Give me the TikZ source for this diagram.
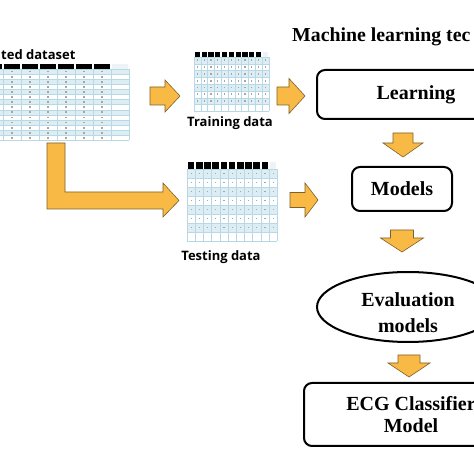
\documentclass[tikz,border=0pt]{standalone}
\usepackage{fontspec}
\setmainfont{Liberation Serif}
\newfontfamily\labelfont{Open Sans}
\usetikzlibrary{shapes.geometric}

\definecolor{arrowfill}{HTML}{F8BA45}
\definecolor{arrowline}{HTML}{80602A}
\definecolor{rowblue}{HTML}{DCEDF4}
\definecolor{gridblue}{HTML}{B9D8E5}
\definecolor{headgray}{HTML}{EEF3F6}

\tikzset{
  blockarrow/.style={fill=arrowfill, draw=arrowline, line width=0.6pt, line join=miter},
  pics/fatarrow/.style args={#1/#2/#3/#4}{code={
    \draw[blockarrow] (0,-#2) -- ({#1-#4},-#2) -- ({#1-#4},-#3) -- (#1,0)
      -- ({#1-#4},#3) -- ({#1-#4},#2) -- (0,#2) -- cycle;}},
  stagebox/.style={draw, line width=2pt, rounded corners=8pt, inner sep=0pt, align=center,
    font=\fontsize{20}{22}\selectfont\bfseries},
  stageoval/.style={draw, ellipse, line width=2pt, inner sep=0pt},
  stagetext/.style={align=center, font=\fontsize{20}{26}\selectfont\bfseries},
  tablelabel/.style={font=\labelfont\bfseries\fontsize{13}{15}\selectfont}
}

% #1 x0, #2 top, #3 cols, #4 col width, #5 rows, #6 row height, #7 header height, #8 filled rows, #9 filled cols
\newcommand{\gridtable}[9]{%
  \foreach \r in {1,...,#5}{
    \pgfmathsetmacro{\rtop}{#2-#7-(\r-1)*#6}
    \ifodd\r \fill[rowblue] (#1,\rtop) rectangle ({#1+#3*#4},{\rtop-#6}); \fi
  }
  \foreach \c in {0,...,#3}
    \draw[gridblue, line width=0.4pt] ({#1+\c*#4},{#2-#7}) -- ({#1+\c*#4},{#2-#7-#5*#6});
  \foreach \r in {0,...,#5}
    \draw[gridblue, line width=0.4pt] (#1,{#2-#7-\r*#6}) -- ({#1+#3*#4},{#2-#7-\r*#6});
  \foreach \c in {1,...,#3}{
    \ifnum\c<#3
      \fill[black] ({#1+(\c-1)*#4+0.8},#2) rectangle ({#1+\c*#4-0.8},{#2-#7+0.4});
    \else
      \fill[headgray] ({#1+(\c-1)*#4+0.8},#2) rectangle ({#1+\c*#4-0.8},{#2-#7+0.4});
    \fi
  }
  \foreach \r in {1,...,#8}
    \foreach \c in {1,...,#9}
      \fill[gray!70] ({#1+(\c-0.5)*#4-0.6},{#2-#7-(\r-0.5)*#6-0.9})
        rectangle ({#1+(\c-0.5)*#4+0.6},{#2-#7-(\r-0.5)*#6+0.9});
}

\begin{document}
\begin{tikzpicture}[x=1pt, y=1pt]
  \useasboundingbox (0,0) rectangle (474,474);
  \clip (0,0) rectangle (474,474);
  \fill[white] (0,0) rectangle (474,474);

  % data tables
  \node[tablelabel, anchor=base west, inner sep=0pt] (datatitle) at (1,414) {ted dataset};
  \gridtable{-15}{410}{8}{18}{14}{5.1}{5}{14}{7}
  \gridtable{194}{422}{11}{6.8}{8}{6.8}{5}{7}{11}
  \gridtable{187}{312}{11}{8.2}{8}{9}{7}{7}{11}
  \node[tablelabel] (trainlabel) at (230,351) {Training data};
  \node[tablelabel] (testlabel) at (221,217) {Testing data};

  % machine learning part
  \node[anchor=base west, inner sep=0pt, font=\fontsize{19.8}{22}\selectfont\bfseries] (mltitle)
    at (292,432) {Machine learning tec};
  \node[stagebox, minimum width=198pt, minimum height=49pt] (learning) at (416,379.5) {Learning};
  \node[stagebox, minimum width=100pt, minimum height=44pt] (models) at (402,285) {Models};
  \node[stageoval, minimum width=182pt, minimum height=70pt] (eval) at (408,167) {};
  \node[stagetext] (evaltext) at ([yshift=-6pt]eval.center) {Evaluation\\models};
  \node[stagebox, minimum width=214pt, minimum height=63pt] (ecg) at (411,59.5) {ECG Classifier\\Model};

  % block arrows
  \pic at (150,378) {fatarrow=30/9/16/15};
  \pic at (277,378) {fatarrow=28/9/17.5/16};
  \pic at (290,274) {fatarrow=28/7.5/17/13};
  \pic[rotate=-90] at (403,341) {fatarrow=24/10/20/14};
  \pic[rotate=-90] at (402,244) {fatarrow=22/11.5/21.5/14};
  \pic[rotate=-90] at (409,119) {fatarrow=22/11/21/14};
  \draw[blockarrow] (47,331) -- (65,331) -- (65,282) -- (163,282) -- (163,291)
    -- (179,273.5) -- (163,257) -- (163,265) -- (47,265) -- cycle;
\end{tikzpicture}
\end{document}
